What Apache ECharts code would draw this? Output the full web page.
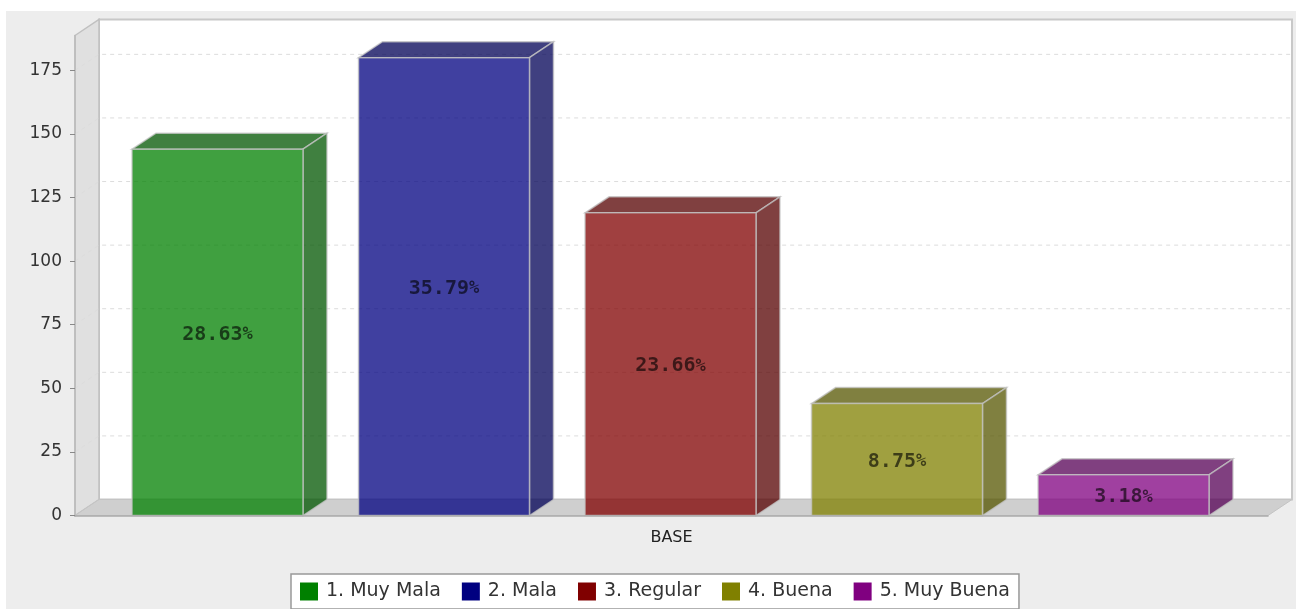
<!DOCTYPE html>
<html lang="en">
<head>
<meta charset="UTF-8">
<title>BASE</title>
<script src="https://cdn.jsdelivr.net/npm/echarts@6/dist/echarts.min.js"></script>
<style>
  html, body { margin: 0; padding: 0; background: #fff; overflow: hidden; }
  #chart { width: 1296px; height: 609px; }
</style>
</head>
<body>
<div id="chart"></div>
<script>
var categories = ['BASE'];
var seriesNames = ['1. Muy Mala', '2. Mala', '3. Regular', '4. Buena', '5. Muy Buena'];
var seriesValues = [144, 180, 119, 44, 16];
var percentLabels = ['28.63', '35.79', '23.66', '8.75', '3.18'];
var seriesColors = ['#008000', '#000080', '#800000', '#808000', '#800080'];
var sideColors = ['#005500', '#000055', '#550000', '#555500', '#550055'];
var yTicks = [0, 25, 50, 75, 100, 125, 150, 175];
var yMax = 188.7;

// fake 3d depth, same for the frame and the bars
var depthX = 24;
var depthY = 16;
var barStep = 0.18986;
var barWidth = 0.1433;

function renderFrame(params, api) {
    var c = params.coordSys;
    var l = c.x, r = c.x + c.width, t = c.y, b = c.y + c.height;
    var kids = [
        { type: 'rect', shape: { x: l + depthX, y: t - depthY, width: c.width, height: c.height },
          style: { fill: '#fff', stroke: '#c8c8c8', lineWidth: 2 } },
        { type: 'polygon', shape: { points: [[l, t], [l + depthX, t - depthY], [l + depthX, b - depthY], [l, b]] },
          style: { fill: '#e0e0e0', stroke: '#c0c0c0', lineWidth: 1.5 } },
        { type: 'polygon', shape: { points: [[l, b], [l + depthX, b - depthY], [r + depthX, b - depthY], [r, b]] },
          style: { fill: '#cfcfcf', stroke: '#c4c4c4', lineWidth: 1 } }
    ];
    yTicks.forEach(function (v) {
        if (v === 0) return;
        var y = api.coord([0, v])[1];
        kids.push({
            type: 'polyline',
            shape: { points: [[l, y], [l + depthX, y - depthY], [r + depthX, y - depthY]] },
            style: { fill: 'none', stroke: '#dcdcdc', lineWidth: 1, lineDash: [4, 4] }
        });
    });
    return { type: 'group', children: kids };
}

function makeBarRender(i) {
    return function (params, api) {
        var band = api.size([1, 0])[0];
        var mid = api.coord([0, 0]);
        var top = api.coord([0, api.value(1)]);
        var w = band * barWidth;
        var x0 = mid[0] - 1 + (i - 2) * band * barStep - w / 2;
        var x1 = x0 + w;
        var y0 = top[1], y1 = mid[1];
        var edge = { stroke: '#c4c4c4', lineWidth: 1.5, fill: seriesColors[i], opacity: 0.75 };
        var dark = { stroke: '#c4c4c4', lineWidth: 1.5, fill: sideColors[i], opacity: 0.75 };
        return {
            type: 'group',
            children: [
                { type: 'polygon', shape: { points: [[x0, y0], [x0 + depthX, y0 - depthY], [x1 + depthX, y0 - depthY], [x1, y0]] }, style: dark },
                { type: 'polygon', shape: { points: [[x1, y0], [x1 + depthX, y0 - depthY], [x1 + depthX, y1 - depthY], [x1, y1]] }, style: dark },
                { type: 'rect', shape: { x: x0, y: y0, width: w, height: y1 - y0 }, style: edge },
                { type: 'text', x: (x0 + x1) / 2, y: (y0 + y1) / 2 + 2, style: {
                    text: '{n|' + percentLabels[i] + '}{p|%}',
                    align: 'center', verticalAlign: 'middle',
                    rich: {
                        n: { font: 'bold 20px "DejaVu Sans Mono"', fill: 'rgba(0,0,0,0.62)' },
                        p: { font: 'bold 17px "DejaVu Sans Mono"', fill: 'rgba(0,0,0,0.62)' }
                    }
                } }
            ]
        };
    };
}

var seriesList = [{
    type: 'custom', silent: true, clip: false, z: 1,
    data: [[0, 0]], renderItem: renderFrame
}];
seriesNames.forEach(function (name, i) {
    seriesList.push({
        name: name, type: 'custom', clip: false, z: 2,
        itemStyle: { color: seriesColors[i] },
        encode: { x: 0, y: 1 },
        data: [[0, seriesValues[i]]],
        renderItem: makeBarRender(i)
    });
});

var chart = echarts.init(document.getElementById('chart'));
chart.setOption({
    animation: false,
    textStyle: { fontFamily: '"DejaVu Sans"' },
    graphic: [{ type: 'rect', z: -10, shape: { x: 6, y: 11, width: 1290, height: 598 }, style: { fill: '#ededed' } }],
    grid: { left: 75, right: 28, top: 35.5, bottom: 93.5 },
    xAxis: {
        type: 'category', data: categories, z: 5,
        axisLine: { lineStyle: { color: '#aaa', width: 1.5 } },
        axisTick: { show: false },
        axisLabel: { color: '#222', fontSize: 16, margin: 14 }
    },
    yAxis: {
        type: 'value', min: 0, max: yMax, interval: 25, z: 5,
        axisLine: { show: true, lineStyle: { color: '#bbb', width: 1.5 } },
        axisTick: { show: true, length: 5, customValues: yTicks, lineStyle: { color: '#888' } },
        axisLabel: { color: '#333', fontSize: 17, margin: 13, customValues: yTicks },
        splitLine: { show: false }
    },
    legend: {
        data: seriesNames, left: 291, top: 574, orient: 'horizontal',
        backgroundColor: '#fff', borderColor: '#999', borderWidth: 1.5, borderRadius: 0,
        padding: [8, 9], itemWidth: 18, itemHeight: 18, itemGap: 21, icon: 'rect',
        selectedMode: false,
        textStyle: { color: '#333', fontSize: 19, fontFamily: '"DejaVu Sans"', padding: [0, 0, 0, 3] }
    },
    series: seriesList
});
</script>
</body>
</html>
